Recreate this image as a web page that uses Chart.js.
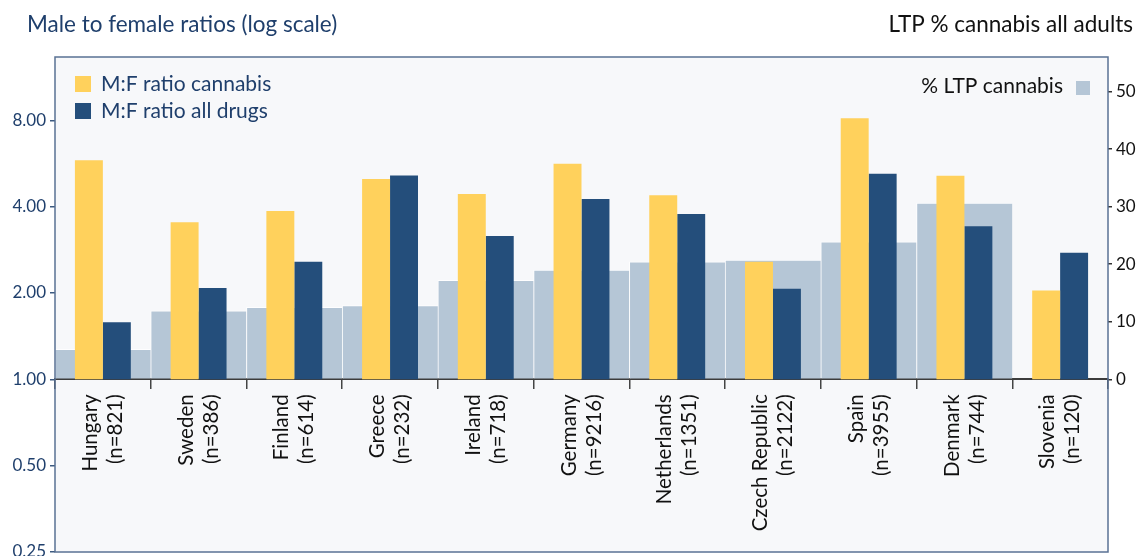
<!DOCTYPE html>
<html>
<head>
<meta charset="utf-8">
<script src="https://cdn.jsdelivr.net/npm/chart.js@4.4.1/dist/chart.umd.min.js"></script>
<style>
  html, body { margin: 0; padding: 0; background: #fff; }
  #wrap { width: 1136px; height: 556px; }
</style>
</head>
<body>
<div id="wrap"><canvas id="ratioChart"></canvas></div>
<script>
// data
const countries = ["Hungary", "Sweden", "Finland", "Greece", "Ireland", "Germany", "Netherlands", "Czech Republic", "Spain", "Denmark", "Slovenia"];
const sampleSizes = ["n=821", "n=386", "n=614", "n=232", "n=718", "n=9216", "n=1351", "n=2122", "n=3955", "n=744", "n=120"];
const ratioCannabis = [5.80, 3.53, 3.86, 4.99, 4.43, 5.65, 4.38, 2.57, 8.13, 5.13, 2.04];
const ratioAllDrugs = [1.58, 2.08, 2.57, 5.14, 3.16, 4.25, 3.77, 2.07, 5.21, 3.42, 2.76];
const ltpCannabis = [5.2, 11.9, 12.5, 12.8, 17.2, 19.0, 20.4, 20.7, 23.9, 30.6, null];
const ratioTicks = [0.25, 0.5, 1, 2, 4, 8];
const ltpTicks = [0, 10, 20, 30, 40, 50];

const FONT = "Lato, 'Open Sans', sans-serif";
const YELLOW = "#ffd15c";
const NAVY = "#244e7b";
const GREY = "#b5c6d6";
const PLOT_BG = "#f7f8fa";
const TEXT_NAVY = "#1f3f6c";

// background, frame, titles, legend and rotated country labels
const decorations = {
    id: "decorations",
    beforeDraw(chart) {
        const { ctx, chartArea: a } = chart;
        ctx.save();
        ctx.fillStyle = PLOT_BG;
        ctx.fillRect(a.left, a.top, a.right - a.left, a.bottom - a.top);
        ctx.restore();
    },
    afterDraw(chart) {
        const { ctx, chartArea: a } = chart;
        const ds = chart.data.datasets;
        ctx.save();

        ctx.strokeStyle = "#5a7294";
        ctx.lineWidth = 1.5;
        ctx.strokeRect(a.left, a.top, a.right - a.left, a.bottom - a.top);

        ctx.textBaseline = "middle";
        ctx.font = "22.5px " + FONT;
        ctx.fillStyle = TEXT_NAVY;
        ctx.textAlign = "left";
        ctx.fillText("Male to female ratios (log scale)", 27, 25);
        ctx.fillStyle = "#111";
        ctx.textAlign = "right";
        ctx.fillText("LTP % cannabis all adults", 1133, 25);

        // legend
        ctx.font = "21px " + FONT;
        ctx.textAlign = "left";
        [0, 1].forEach((k) => {
            const y = 84 + k * 27;
            ctx.fillStyle = ds[k].backgroundColor;
            ctx.fillRect(75, y - 8, 16, 16);
            ctx.fillStyle = TEXT_NAVY;
            ctx.fillText(ds[k].label, 101, y);
        });
        ctx.fillStyle = ds[2].backgroundColor;
        ctx.fillRect(1076, 81, 14, 14);
        ctx.fillStyle = "#111";
        ctx.textAlign = "right";
        ctx.fillText(ds[2].label, 1063, 86);

        // country labels under the 1.00 line
        const xs = chart.scales.x;
        const y0 = chart.scales.y.getPixelForValue(1) + 15;
        ctx.font = "20.5px " + FONT;
        ctx.fillStyle = "#111";
        countries.forEach((name, i) => {
            const x = xs.getPixelForValue(i);
            ctx.save();
            ctx.translate(x, y0);
            ctx.rotate(-Math.PI / 2);
            ctx.textAlign = "right";
            ctx.fillText(name, 0, -12.5);
            ctx.fillText("(" + sampleSizes[i] + ")", 0, 12.5);
            ctx.restore();
        });
        ctx.restore();
    },
};

const ctx = document.getElementById("ratioChart").getContext("2d");
new Chart(ctx, {
    type: "bar",
    data: {
        labels: countries,
        datasets: [
            {
                label: "M:F ratio cannabis",
                data: ratioCannabis.map((v) => [1, v]),
                backgroundColor: YELLOW,
                yAxisID: "y",
                order: 1,
                categoryPercentage: 0.584,
                barPercentage: 1,
            },
            {
                label: "M:F ratio all drugs",
                data: ratioAllDrugs.map((v) => [1, v]),
                backgroundColor: NAVY,
                yAxisID: "y",
                order: 1,
                categoryPercentage: 0.584,
                barPercentage: 1,
            },
            {
                label: "% LTP cannabis",
                data: ltpCannabis,
                backgroundColor: GREY,
                borderColor: "rgba(255,255,255,0.85)",
                borderWidth: { top: 1, left: 1, right: 0, bottom: 0 },
                yAxisID: "y2",
                order: 2,
                grouped: false,
                categoryPercentage: 1,
                barPercentage: 1,
            },
        ],
    },
    options: {
        responsive: true,
        maintainAspectRatio: false,
        animation: false,
        layout: { padding: { top: 57, bottom: 4, left: 0, right: 0 } },
        plugins: {
            legend: { display: false },
            tooltip: { enabled: false },
        },
        scales: {
            x: {
                position: { y: 1 },
                offset: true,
                grid: {
                    offset: true,
                    drawOnChartArea: false,
                    tickLength: 9,
                    color: "#444",
                    lineWidth: 1.5,
                },
                border: { display: true, color: "#3c3c3c", width: 2 },
                ticks: { display: false, autoSkip: false },
                afterFit: (s) => {
                    s.height = 0;
                },
            },
            y: {
                type: "logarithmic",
                position: "left",
                min: 0.25,
                max: 13.3,
                afterBuildTicks: (s) => {
                    s.ticks = ratioTicks.map((v) => ({ value: v }));
                },
                afterFit: (s) => {
                    s.width = 55;
                    s.paddingTop = 0;
                    s.paddingBottom = 0;
                },
                ticks: {
                    color: TEXT_NAVY,
                    font: { family: FONT, size: 17 },
                    padding: 4,
                    autoSkip: false,
                    callback: (v) => Number(v).toFixed(2),
                },
                grid: { drawOnChartArea: false, tickLength: 5, color: "#3d5a80", lineWidth: 1.5 },
                border: { display: false },
            },
            y2: {
                type: "linear",
                position: "right",
                min: -30,
                max: 56,
                afterBuildTicks: (s) => {
                    s.ticks = ltpTicks.map((v) => ({ value: v }));
                },
                afterFit: (s) => {
                    s.width = 28;
                    s.paddingTop = 0;
                    s.paddingBottom = 0;
                },
                ticks: {
                    color: "#111",
                    font: { family: FONT, size: 17 },
                    padding: 4,
                    autoSkip: false,
                },
                grid: { drawOnChartArea: false, tickLength: 4, color: "#333", lineWidth: 1.5 },
                border: { display: false },
            },
        },
    },
    plugins: [decorations],
});
</script>
</body>
</html>
